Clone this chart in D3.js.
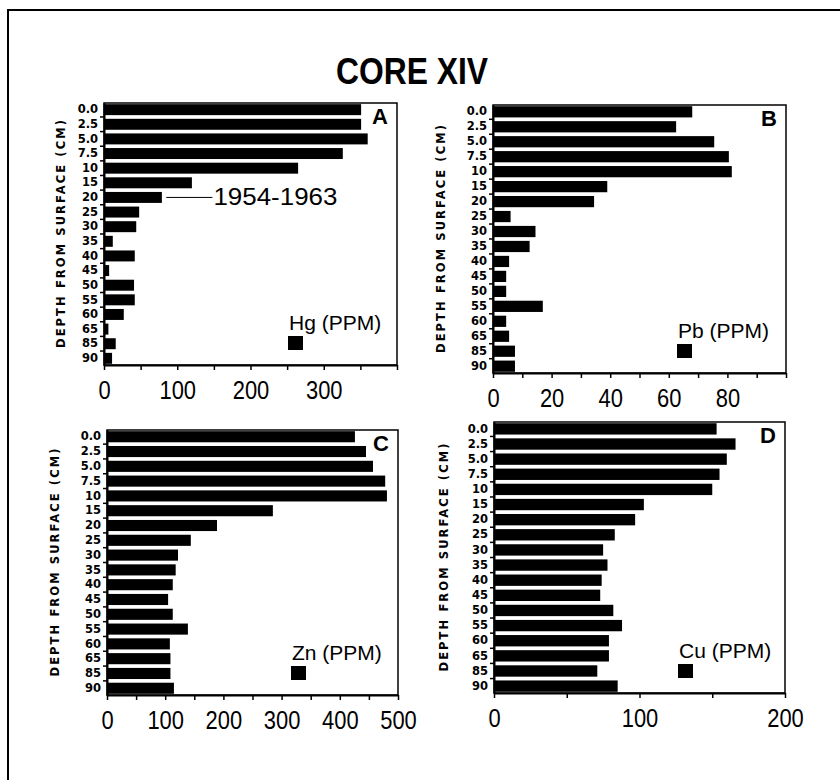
<!DOCTYPE html>
<meta charset="utf-8">
<style>
body { margin: 0; background: #fff; }
.narrow { font-family: "Liberation Sans Narrow", "Arial Narrow", "Liberation Sans", sans-serif; }
.depth { font-family: "DejaVu Sans", sans-serif; font-weight: bold; font-size: 11.5px; }
</style>
<svg width="840" height="780"></svg>
<script src="https://d3js.org/d3.v7.min.js"></script>
<script>

// depth intervals (cm), top to bottom
var depths = ["0.0", "2.5", "5.0", "7.5", "10", "15", "20", "25", "30", "35", "40", "45", "50", "55", "60", "65", "85", "90"];

// concentrations, ppm
var hg = [351, 351, 360, 326, 265, 120, 79, 48, 44, 12, 42, 7, 41, 42, 27, 6, 16, 11];
var pb = [68, 62.5, 75.5, 80.5, 81.5, 39, 34.5, 6, 14.5, 12.5, 5.5, 4.5, 4.5, 17, 4.5, 5.5, 7.5, 7.5];
var zn = [426, 445, 457, 478, 481, 285, 189, 144, 122, 118, 113, 105, 113, 139, 108, 109, 109, 115];
var cu = [153, 166, 160, 155, 150, 103, 97, 83, 75, 78, 74, 73, 82, 88, 79, 79, 71, 85];

// tick labels for each x axis
var hgTicks = [0, 100, 200, 300];
var pbTicks = [0, 20, 40, 60, 80];
var znTicks = [0, 100, 200, 300, 400, 500];
var cuTicks = [0, 100, 200];

var svg = d3.select("svg");

// outer frame (top and left edge only visible)
svg.append("path")
    .attr("d", "M8,780 V10 H840")
    .attr("fill", "none")
    .attr("stroke", "#000")
    .attr("stroke-width", 2);

svg.append("text")
    .attr("class", "narrow")
    .attr("x", 412)
    .attr("y", 84)
    .attr("text-anchor", "middle")
    .attr("textLength", 152)
    .attr("lengthAdjust", "spacingAndGlyphs")
    .style("font-size", "37px")
    .style("font-weight", "bold")
    .text("CORE XIV");

var panels = [
  {letter: "A", name: "Hg (PPM)", values: hg, labels: hgTicks, max: 400, step: 50, left: 104, top: 103, right: 397, bottom: 365, titleX: 61},
  {letter: "B", name: "Pb (PPM)", values: pb, labels: pbTicks, max: 100, step: 10, left: 493, top: 105, right: 786, bottom: 373, titleX: 441},
  {letter: "C", name: "Zn (PPM)", values: zn, labels: znTicks, max: 500, step: 50, left: 107, top: 430, right: 398, bottom: 695, titleX: 55},
  {letter: "D", name: "Cu (PPM)", values: cu, labels: cuTicks, max: 200, step: 50, left: 494, top: 422, right: 785, bottom: 693, titleX: 444}
];

panels.forEach(function(p) {
  var x = d3.scaleLinear().domain([0, p.max]).range([p.left, p.right]);
  var y = d3.scaleBand().domain(depths).range([p.top, p.bottom]).paddingInner(0.25).paddingOuter(0.08);
  var g = svg.append("g");

  // bars
  g.selectAll("rect.bar")
    .data(p.values)
    .join("rect")
      .attr("class", "bar")
      .attr("x", x(0))
      .attr("y", function(d, i) { return y(depths[i]); })
      .attr("width", function(d) { return x(d) - x(0); })
      .attr("height", y.bandwidth())
      .attr("fill", "#000");

  // frame
  g.append("rect")
    .attr("x", p.left).attr("y", p.top)
    .attr("width", p.right - p.left).attr("height", p.bottom - p.top)
    .attr("fill", "none").attr("stroke", "#000").attr("stroke-width", 1.5);

  // bottom axis
  var xt = d3.range(0, p.max + 1, p.step);
  var xa = g.append("g")
    .attr("transform", "translate(0," + p.bottom + ")")
    .call(d3.axisBottom(x).tickValues(xt).tickSize(5).tickSizeOuter(0)
      .tickFormat(function(d) { return p.labels.indexOf(d) >= 0 ? d : ""; }).tickPadding(6));
  xa.select(".domain").attr("stroke-width", 2);
  xa.selectAll("line").attr("stroke-width", 1.5);
  xa.selectAll("text")
    .attr("class", "narrow")
    .attr("dy", "0.9em")
    .style("font-size", "25px")
    .attr("fill", "#000")
    .each(function() {
      var n = this.textContent.length;
      if (n) d3.select(this).attr("textLength", n * 12.2).attr("lengthAdjust", "spacingAndGlyphs");
    });

  // left axis: labels at bars, ticks between bars
  var ya = g.append("g")
    .attr("transform", "translate(" + p.left + ",0)")
    .call(d3.axisLeft(y).tickSize(0).tickPadding(6));
  ya.select(".domain").attr("stroke-width", 2);
  ya.selectAll("text").attr("class", "depth").attr("fill", "#000");

  g.selectAll("line.sep")
    .data(depths.slice(1))
    .join("line")
      .attr("class", "sep")
      .attr("x1", p.left - 4).attr("x2", p.left)
      .attr("y1", function(d) { return y(d) - y.step() * y.paddingInner() / 2; })
      .attr("y2", function(d) { return y(d) - y.step() * y.paddingInner() / 2; })
      .attr("stroke", "#000").attr("stroke-width", 1.5);

  // y title
  var cy = (p.top + p.bottom) / 2;
  g.append("text")
    .attr("class", "depth")
    .attr("transform", "translate(" + p.titleX + "," + cy + ") rotate(-90)")
    .attr("text-anchor", "middle")
    .attr("dominant-baseline", "central")
    .attr("textLength", 228)
    .attr("lengthAdjust", "spacing")
    .text("DEPTH FROM SURFACE (CM)");

  // panel letter
  g.append("text")
    .attr("x", p.right - 9)
    .attr("y", p.top + 21)
    .attr("text-anchor", "end")
    .style("font-family", "Liberation Sans, sans-serif")
    .style("font-weight", "bold")
    .style("font-size", "22px")
    .text(p.letter);

  // legend
  g.append("text")
    .attr("x", p.left + 185)
    .attr("y", p.bottom - 35)
    .style("font-family", "Liberation Sans, sans-serif")
    .style("font-size", "21px")
    .text(p.name);
  g.append("rect")
    .attr("x", p.left + 184)
    .attr("y", p.bottom - 29)
    .attr("width", 15).attr("height", 14)
    .attr("fill", "#000");

  // dating note on panel A
  if (p.letter === "A") {
    var yc = y("20") + y.bandwidth() / 2;
    g.append("line")
      .attr("x1", x(85)).attr("x2", x(148))
      .attr("y1", yc).attr("y2", yc)
      .attr("stroke", "#000").attr("stroke-width", 1);
    g.append("text")
      .attr("x", x(148) + 1)
      .attr("y", yc + 8)
      .attr("textLength", 124)
      .attr("lengthAdjust", "spacingAndGlyphs")
      .style("font-family", "Liberation Sans, sans-serif")
      .style("font-size", "24px")
      .text("1954-1963");
  }
});

</script>
